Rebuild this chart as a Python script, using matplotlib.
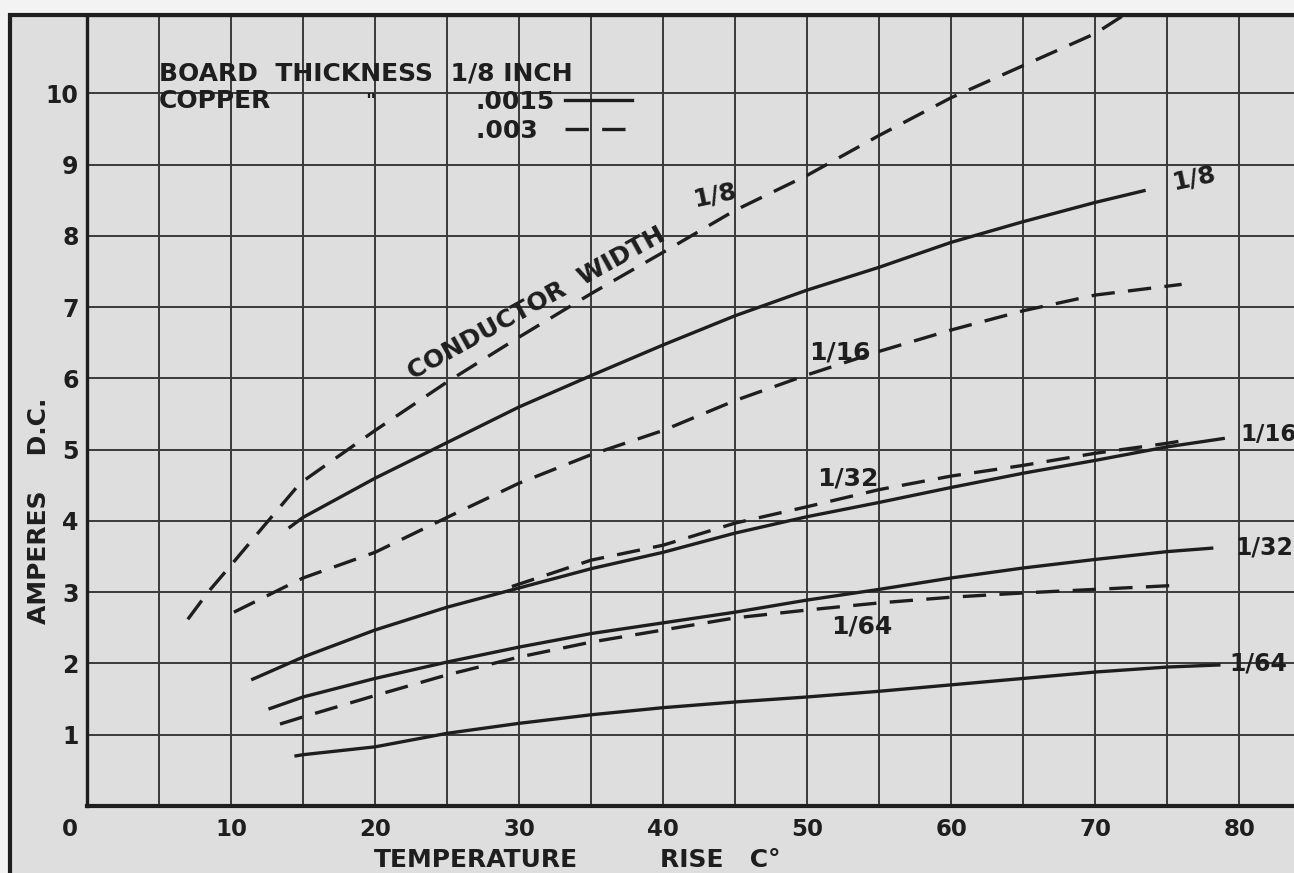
import matplotlib
from matplotlib import pyplot as plt
from matplotlib.patches import Rectangle
from matplotlib.lines import Line2D

matplotlib.rc('font', family='DejaVu Sans', weight='bold')

INK = '#1e1e1e'
GRID = '#3a3a3a'
PAPER = '#dedede'

# conductor width curves: temperature rise (C) vs amperes
# copper .0015 (solid)
s8_x = [14, 15, 20, 25, 30, 35, 40, 45, 50, 55, 60, 65, 70, 73.5]
s8_y = [3.9, 4.05, 4.6, 5.1, 5.6, 6.04, 6.47, 6.88, 7.24, 7.56, 7.91, 8.2, 8.47, 8.64]
s16_x = [11.4, 15, 20, 25, 30, 35, 40, 45, 50, 55, 60, 65, 70, 75, 79]
s16_y = [1.77, 2.09, 2.47, 2.79, 3.06, 3.33, 3.56, 3.83, 4.06, 4.26, 4.47, 4.67, 4.85, 5.04, 5.16]
s32_x = [12.6, 15, 20, 25, 30, 35, 40, 45, 50, 55, 60, 65, 70, 75, 78.2]
s32_y = [1.36, 1.53, 1.79, 2.02, 2.23, 2.42, 2.57, 2.72, 2.89, 3.04, 3.2, 3.34, 3.46, 3.57, 3.62]
s64_x = [14.4, 15, 20, 25, 30, 35, 40, 45, 50, 55, 60, 65, 70, 75, 78.7]
s64_y = [0.7, 0.72, 0.83, 1.02, 1.16, 1.28, 1.38, 1.46, 1.53, 1.61, 1.7, 1.79, 1.88, 1.95, 1.98]

# copper .003 (dashed)
d8_x = [7, 8.4, 10, 12.2, 14.8, 20, 25, 30, 35, 40, 45, 50, 55, 60, 65, 70, 72]
d8_y = [2.62, 3.0, 3.38, 3.91, 4.53, 5.27, 5.95, 6.58, 7.19, 7.77, 8.36, 8.85, 9.41, 9.94, 10.39, 10.84, 11.1]
d16_x = [10.2, 15, 20, 25, 30, 35, 40, 45, 50, 55, 60, 65, 70, 76]
d16_y = [2.72, 3.2, 3.56, 4.05, 4.53, 4.93, 5.27, 5.69, 6.05, 6.38, 6.68, 6.95, 7.17, 7.32]
d32_x = [29.5, 35, 40, 45, 50, 55, 60, 65, 70, 75, 76.2]
d32_y = [3.08, 3.45, 3.66, 3.97, 4.2, 4.44, 4.63, 4.78, 4.95, 5.09, 5.13]
d64_x = [13.4, 15, 20, 25, 30, 35, 40, 45, 50, 55, 60, 65, 70, 76]
d64_y = [1.15, 1.25, 1.55, 1.84, 2.09, 2.3, 2.47, 2.64, 2.75, 2.85, 2.93, 2.99, 3.04, 3.1]

xticks = [10, 20, 30, 40, 50, 60, 70, 80]
yticks = [1, 2, 3, 4, 5, 6, 7, 8, 9, 10]

fig = plt.figure(figsize=(12.94, 8.73), dpi=100, facecolor='#f3f3f3')
# paper frame around the graph
fig.add_artist(Rectangle((10 / 1294, -0.1), 1.2, (873 - 15) / 873 + 0.1,
                         transform=fig.transFigure, facecolor=PAPER,
                         edgecolor=INK, lw=3, zorder=0))

ax = fig.add_axes([87 / 1294, 67 / 873, 1207 / 1294, 791 / 873])
ax.set_facecolor(PAPER)
ax.set_xlim(0, 83.8)
ax.set_ylim(0, 11.1)

ax.set_xticks(range(5, 85, 5), minor=True)
ax.set_xticks(xticks)
ax.set_yticks(yticks)
ax.grid(True, which='both', color=GRID, lw=1.4)
ax.set_axisbelow(True)
ax.tick_params(length=0, which='both', colors=INK)
ax.tick_params(axis='x', labelsize=16.5, pad=9)
ax.tick_params(axis='y', labelsize=17, pad=6)
ax.text(-1.2, -0.17, '0', fontsize=16.5, color=INK, ha='center', va='top')

for side in ['left', 'bottom', 'top']:
    ax.spines[side].set_color(INK)
ax.spines['left'].set_linewidth(2.4)
ax.spines['bottom'].set_linewidth(3)
ax.spines['top'].set_linewidth(2.4)
ax.spines['right'].set_visible(False)

dash = (0, (7, 4))
lw = 2.4
for xs, ys in [(s8_x, s8_y), (s16_x, s16_y), (s32_x, s32_y), (s64_x, s64_y)]:
    ax.plot(xs, ys, color=INK, lw=lw, solid_capstyle='butt')
for xs, ys in [(d8_x, d8_y), (d16_x, d16_y), (d32_x, d32_y), (d64_x, d64_y)]:
    ax.plot(xs, ys, color=INK, lw=lw, linestyle=dash)

# curve labels
fs = 18
ax.text(31.2, 7.05, 'CONDUCTOR  WIDTH', rotation=29, fontsize=18, color=INK,
        ha='center', va='center', rotation_mode='anchor')
ax.text(43.6, 8.57, '1/8', fontsize=fs, color=INK, ha='center', va='center', rotation=12)
ax.text(76.8, 8.81, '1/8', fontsize=fs, color=INK, ha='center', va='center', rotation=12)
ax.text(52.3, 6.37, '1/16', fontsize=fs, color=INK, ha='center', va='center')
ax.text(52.8, 4.6, '1/32', fontsize=fs, color=INK, ha='center', va='center')
ax.text(53.8, 2.52, '1/64', fontsize=fs, color=INK, ha='center', va='center')
ax.text(80.1, 5.22, '1/16', fontsize=16.5, color=INK, ha='left', va='center', clip_on=False)
ax.text(79.7, 3.63, '1/32', fontsize=17, color=INK, ha='left', va='center', clip_on=False)
ax.text(79.3, 2.0, '1/64', fontsize=17, color=INK, ha='left', va='center', clip_on=False)

# key
ax.text(5.0, 10.28, 'BOARD  THICKNESS  1/8 INCH', fontsize=18, color=INK, va='center')
ax.text(5.0, 9.9, 'COPPER', fontsize=18, color=INK, va='center')
ax.text(19.7, 9.88, '"', fontsize=14, color=INK, va='center', ha='center')
handles = [Line2D([], [], color=INK, lw=lw), Line2D([], [], color=INK, lw=lw, linestyle=dash)]
leg = ax.legend(handles, ['.0015', '.003\u2007'], loc='upper left', bbox_to_anchor=(0.322, 0.905),
                frameon=False, markerfirst=False, fontsize=18, handlelength=2.7,
                handletextpad=0.4, labelspacing=0.2, borderpad=0, borderaxespad=0)
for t in leg.get_texts():
    t.set_color(INK)

# axis titles
ax.text(19.9, -0.59, 'TEMPERATURE', fontsize=18, color=INK, ha='left', va='top', clip_on=False)
ax.text(39.8, -0.59, 'RISE   C°', fontsize=18, color=INK, ha='left', va='top', clip_on=False)
ax.text(-3.3, 4.14, 'AMPERES    D.C.', fontsize=18, color=INK, rotation=90,
        ha='center', va='center', clip_on=False)

plt.savefig('out.png', dpi=100, facecolor=fig.get_facecolor())
